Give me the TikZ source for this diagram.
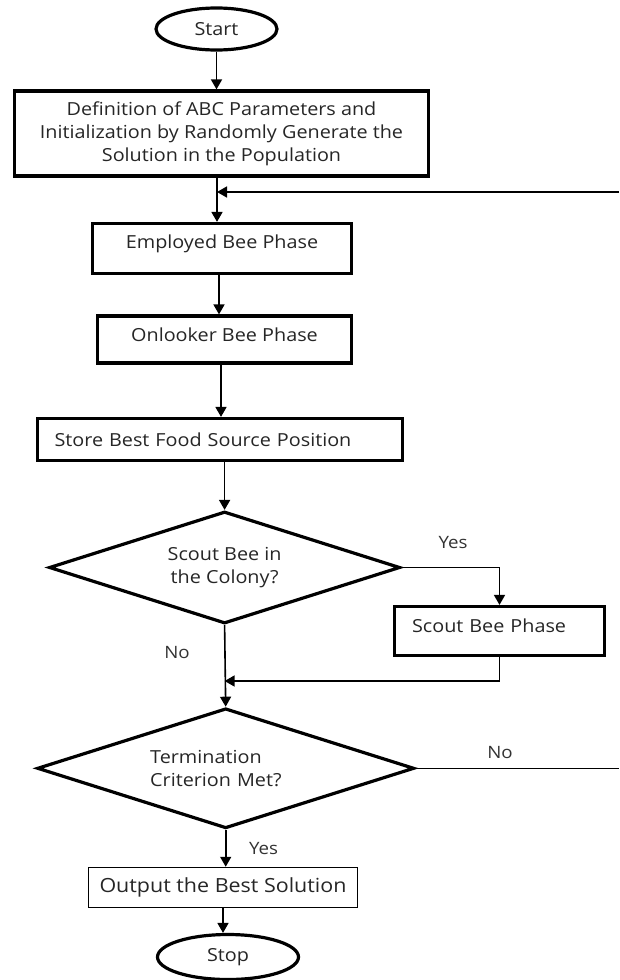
\documentclass[tikz,border=0pt]{standalone}
\usepackage{fontspec}
\setmainfont{Open Sans}[FakeStretch=1.1]
\usetikzlibrary{shapes.geometric,arrows.meta}
\begin{document}
\begin{tikzpicture}[x=1pt,y=-1pt,
  txt/.style={text=black!85, font=\fontsize{18}{23}\selectfont},
  box/.style={draw, line width=3.2pt, inner sep=0pt, txt},
  thinbox/.style={draw, line width=1.5pt, inner sep=0pt, txt},
  term/.style={ellipse, draw, line width=3.2pt, inner sep=0pt, txt},
  dec/.style={diamond, aspect=3, draw, line width=3.2pt, inner sep=0pt, txt},
  ln/.style={line width=1.6pt},
  arr/.style={line width=1.6pt, -{Triangle[length=10pt,width=11pt]}},
  lbl/.style={text=black!80, font=\fontsize{17}{20}\selectfont, inner sep=0pt}]
\useasboundingbox (0,0) rectangle (619,980);
\fill[white] (0,0) rectangle (619,980);

% nodes
\node[term, minimum width=121pt, minimum height=42pt] (start) at (216.5,29) {Start};
\node[box, align=center, minimum width=414pt, minimum height=85pt] (b1) at (221.5,133.5)
  {Definition of ABC Parameters and\\Initialization by Randomly Generate the\\Solution in the Population};
\node[box, minimum width=259pt, minimum height=50pt, text depth=13pt] (emp) at (222,248.5) {Employed Bee Phase};
\node[box, minimum width=254pt, minimum height=47pt, text depth=10pt] (onl) at (224.5,339.5) {Onlooker Bee Phase};
\node[box, minimum width=365pt, minimum height=42pt, text width=331pt, align=left] (store) at (220,439.5) {Store Best Food Source Position};
\node[dec, minimum width=351pt, minimum height=112pt, align=center] (d1) at (224.6,567.5) {Scout Bee in\\the Colony?};
\node[box, minimum width=210pt, minimum height=49pt, text width=175pt, align=left, text depth=10pt] (scout) at (499.5,631) {Scout Bee Phase};
\node[dec, minimum width=377pt, minimum height=120pt, text width=151pt, align=left] (d2) at (225.7,768.3) {Termination\\Criterion Met?};
\node[thinbox, minimum width=269pt, minimum height=40pt, font=\fontsize{19.5}{23}\selectfont] (out) at (223,887.5) {Output the Best Solution};
\node[term, minimum width=141pt, minimum height=45pt] (stop) at (228,957) {Stop};

% helper coordinates
\coordinate (sp1) at (217,0);
\coordinate (sp2) at (219,0);
\coordinate (sp3) at (221,0);
\coordinate (fb) at (619,192);
\coordinate (fb2) at (619,767);
\coordinate (mg) at (0,681);

% connectors
\draw[arr] (start.south) -- (start.south |- b1.north);
\draw[arr] (b1.south -| sp1) -- (emp.north -| sp1);
\draw[arr] (fb) -- (fb -| sp1);
\draw[arr] (emp.south -| sp2) -- (onl.north -| sp2);
\draw[arr] (onl.south -| sp3) -- (store.north -| sp3);
\draw[arr] (d1.north |- store.south) -- (d1.north);
\draw[arr] (d1.east) -| (scout.north);
\draw[arr] (scout.south) |- (d1.south |- mg);
\draw[arr] (d1.south) -- (d2.north);
\draw[ln] (d2.east) -- (d2.east -| fb2);
\draw[arr] (d2.south) -- (d2.south |- out.north);
\draw[arr] (out.south) -- (out.south |- stop.north);

% labels
\node[lbl] (yes1) at (453,543) {Yes};
\node[lbl] (no1) at (177,653) {No};
\node[lbl] (no2) at (500,753) {No};
\node[lbl] (yes2) at (263.5,849) {Yes};
\end{tikzpicture}
\end{document}
